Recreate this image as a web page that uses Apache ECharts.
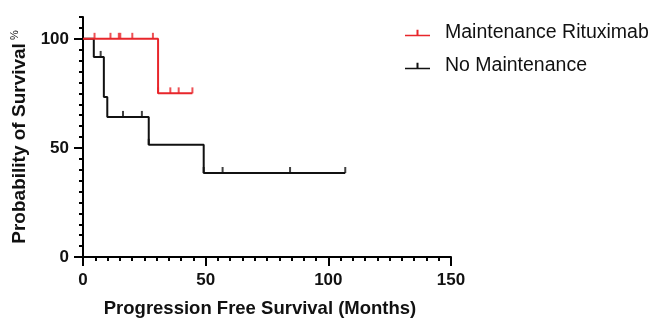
<!DOCTYPE html>
<html>
<head>
<meta charset="utf-8">
<script src="https://cdn.jsdelivr.net/npm/echarts@6/dist/echarts.min.js"></script>
<style>
  html, body { margin: 0; padding: 0; background: #fff; }
  #km_chart { width: 651px; height: 323px; }
</style>
</head>
<body>
<div id="km_chart"></div>
<script>
// survival curves (months, %)
var maintTimes = [0, 30.6, 44.6]
var maintSurv = [100, 75, 75]
var maintCensorTimes = [4.7, 11.2, 14.6, 15.2, 20.1, 28.5, 30.6, 35.6, 39.0, 44.6]
var maintCensorSurv = [100, 100, 100, 100, 100, 100, 75, 75, 75, 75]

var noMaintTimes = [0, 4.4, 8.5, 8.5, 9.9, 26.8, 49.2, 106.9]
var noMaintSurv = [100, 91.7, 82.5, 73.3, 64.2, 51.4, 38.5, 38.5]
var noMaintCensorTimes = [7.2, 16.3, 24.0, 26.8, 49.2, 56.9, 84.4, 106.9]
var noMaintCensorSurv = [91.7, 64.2, 64.2, 51.4, 38.5, 38.5, 38.5, 38.5]

var yTickLabels = [0, 50, 100]
var seriesNames = ['Maintenance Rituximab', 'No Maintenance']

function pairs(xs, ys) {
    return xs.map(function (x, i) { return [x, ys[i]] })
}

var FONT = 'Liberation Sans, Arial, sans-serif'
var RED = '#e8262b'
var legendIcon = 'path://M0,6 L25,6 L25,7.6 L0,7.6 Z M11.5,1 L13.5,1 L13.5,7 L11.5,7 Z'

var chart = echarts.init(document.getElementById('km_chart'))
var option = {
    animation: false,
    grid: {left: 83, right: 200, top: 17, bottom: 63},
    legend: {
        left: 400,
        top: 18,
        orient: 'vertical',
        itemWidth: 25,
        itemHeight: 8,
        itemGap: 13,
        data: [
            {name: seriesNames[0], icon: legendIcon},
            {name: seriesNames[1], icon: legendIcon}
        ],
        textStyle: {fontFamily: FONT, fontSize: 19.5, color: '#111', padding: [0, 0, 0, 10]}
    },
    xAxis: {
        type: 'value',
        min: 0,
        max: 150,
        interval: 50,
        name: 'Progression Free Survival (Months)',
        nameLocation: 'middle',
        nameGap: 42,
        nameTextStyle: {fontFamily: FONT, fontSize: 18.5, fontWeight: 'bold', color: '#111', padding: [0, 14, 0, 0]},
        axisLine: {lineStyle: {color: '#000', width: 2}},
        axisTick: {length: 9, lineStyle: {color: '#000', width: 2}},
        minorTick: {show: true, splitNumber: 10, length: 4, lineStyle: {color: '#000', width: 2}},
        axisLabel: {fontFamily: FONT, fontSize: 17, fontWeight: 'bold', color: '#111', margin: 15},
        splitLine: {show: false}
    },
    yAxis: [{
        type: 'value',
        min: 0,
        max: 110,
        interval: 5,
        name: '{a|Probability of Survival}{b| %}',
        nameLocation: 'middle',
        nameGap: 49,
        nameTextStyle: {
            rich: {
                a: {fontFamily: FONT, fontSize: 19, fontWeight: 'bold', color: '#111', lineHeight: 22},
                b: {fontFamily: FONT, fontSize: 11, color: '#111', verticalAlign: 'top', lineHeight: 22}
            }
        },
        axisLine: {lineStyle: {color: '#000', width: 2}},
        axisTick: {length: 4, lineStyle: {color: '#000', width: 2}},
        axisLabel: {
            customValues: yTickLabels,
            fontFamily: FONT, fontSize: 17, fontWeight: 'bold', color: '#111', margin: 14
        },
        splitLine: {show: false}
    }, {
        type: 'value',
        min: 0,
        max: 110,
        position: 'left',
        axisLine: {show: false},
        axisTick: {customValues: yTickLabels, length: 9, lineStyle: {color: '#000', width: 2}},
        axisLabel: {show: false},
        splitLine: {show: false}
    }],
    series: [{
        name: seriesNames[1],
        type: 'line',
        step: 'end',
        data: pairs(noMaintTimes, noMaintSurv),
        showSymbol: false,
        lineStyle: {color: '#111', width: 2},
        itemStyle: {color: '#111'},
        z: 2
    }, {
        name: seriesNames[1],
        type: 'scatter',
        data: pairs(noMaintCensorTimes, noMaintCensorSurv),
        symbol: 'rect',
        symbolSize: [2, 6],
        symbolOffset: [0, -3],
        itemStyle: {color: '#111'},
        z: 2
    }, {
        name: seriesNames[0],
        type: 'line',
        step: 'end',
        data: pairs(maintTimes, maintSurv),
        showSymbol: false,
        lineStyle: {color: RED, width: 2},
        itemStyle: {color: RED},
        z: 3
    }, {
        name: seriesNames[0],
        type: 'scatter',
        data: pairs(maintCensorTimes, maintCensorSurv),
        symbol: 'rect',
        symbolSize: [2, 6],
        symbolOffset: [0, -3],
        itemStyle: {color: RED},
        z: 3
    }]
}
chart.setOption(option)
</script>
</body>
</html>
